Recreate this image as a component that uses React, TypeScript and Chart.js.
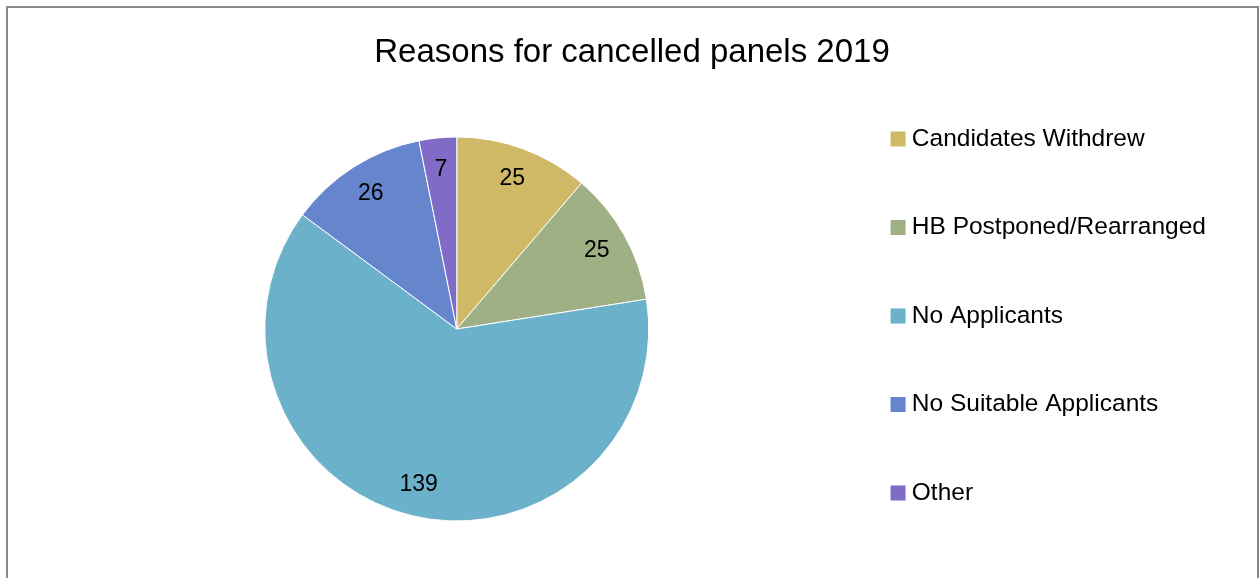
import { useEffect, useRef } from "react";
import { Chart, registerables, layouts } from "chart.js";

Chart.register(...registerables);

const TITLE = "Reasons for cancelled panels 2019";
const categories = [
  "Candidates Withdrew",
  "HB Postponed/Rearranged",
  "No Applicants",
  "No Suitable Applicants",
  "Other",
];
const counts = [25, 25, 139, 26, 7];
const sliceColors = ["#CFB967", "#9EB084", "#6BB1C9", "#6585CD", "#806BC7"];

const FONT = '"Liberation Sans", Arial, sans-serif';

const valueLabels = {
  id: "valueLabels",
  afterDatasetsDraw(chart: any) {
    const { ctx } = chart;
    const meta = chart.getDatasetMeta(0);
    const data = chart.data.datasets[0].data as number[];
    ctx.save();
    ctx.font = `23px ${FONT}`;
    ctx.fillStyle = "#000";
    ctx.textAlign = "center";
    ctx.textBaseline = "middle";
    meta.data.forEach((arc: any, i: number) => {
      const { x, y, startAngle, endAngle, outerRadius } = arc.getProps(
        ["x", "y", "startAngle", "endAngle", "outerRadius"],
        true
      );
      const mid = (startAngle + endAngle) / 2;
      const d = outerRadius * 0.835;
      ctx.fillText(String(data[i]), x + Math.cos(mid) * d, y + Math.sin(mid) * d);
    });
    ctx.restore();
  },
};

// empty layout box on the left so that the pie sits left of centre
// (display:false keeps it out of the legend's max-width share)
const leftSpacer = {
  id: "leftSpacer",
  beforeInit(chart: any) {
    const box: any = {
      position: "left",
      weight: 0,
      fullSize: false,
      options: { display: false },
      width: 0,
      height: 0,
      left: 0,
      top: 0,
      right: 0,
      bottom: 0,
      isHorizontal() {
        return false;
      },
      update(_maxWidth: number, maxHeight: number) {
        this.width = 33;
        this.height = maxHeight;
      },
      draw() {},
    };
    layouts.addBox(chart, box);
  },
};

export default function App() {
  const ref = useRef<HTMLCanvasElement>(null);

  useEffect(() => {
    if (!ref.current) return;
    const defaultGen = (Chart as any).overrides.pie.plugins.legend.labels.generateLabels;
    const chart = new Chart(ref.current, {
      type: "pie",
      data: {
        labels: categories,
        datasets: [
          {
            data: counts,
            backgroundColor: sliceColors,
            borderColor: "#ffffff",
            borderWidth: 1,
            radius: 192,
          } as any,
        ],
      },
      options: {
        responsive: false,
        animation: false,
        layout: { padding: { left: 48, right: 44, top: 0, bottom: 24.8 } },
        plugins: {
          title: {
            display: true,
            text: TITLE,
            color: "#000",
            font: { family: FONT, size: 33, weight: "normal", lineHeight: 0.6 },
            padding: { top: 43, bottom: 0 },
          },
          legend: {
            position: "right",
            align: "start",
            fullSize: false,
            labels: {
              usePointStyle: true,
              pointStyle: "rect",
              boxWidth: 3,
              boxHeight: 15,
              padding: 64,
              color: "#000",
              font: { family: FONT, size: 24.5 },
              generateLabels: (c: any) =>
                defaultGen(c).map((it: any) => ({ ...it, lineWidth: 0, pointStyle: "rect" })),
            },
          },
          tooltip: { enabled: false },
        },
      } as any,
      plugins: [leftSpacer, valueLabels],
    });
    return () => chart.destroy();
  }, []);

  return (
    <div
      style={{
        position: "fixed",
        left: 0,
        top: 0,
        width: 1260,
        height: 578,
        overflow: "hidden",
        background: "#fff",
      }}
    >
      <canvas
        ref={ref}
        width={1260}
        height={620}
        style={{ position: "absolute", left: 0, top: 0, width: 1260, height: 620 }}
      />
      <div
        style={{
          position: "absolute",
          left: 6,
          top: 6,
          width: 1253,
          height: 700,
          border: "2px solid #898989",
          boxSizing: "border-box",
          pointerEvents: "none",
        }}
      />
    </div>
  );
}
